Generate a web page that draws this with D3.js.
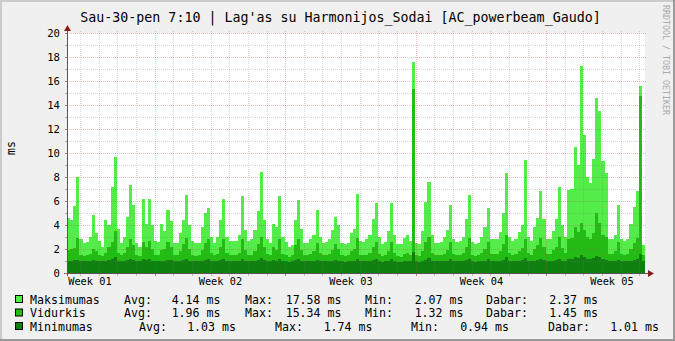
<!DOCTYPE html>
<html>
<head>
<meta charset="utf-8">
<script src="https://cdn.jsdelivr.net/npm/d3@7"></script>
<style>
  html, body { margin: 0; padding: 0; background: #f0f0f0; }
  svg { display: block; }
  text { font-family: "DejaVu Sans Mono", monospace; fill: #000; }
</style>
</head>
<body>
<svg id="chart"></svg>
<script>
const width = 675;
const height = 341;

const titleText = "Sau-30-pen 7:10 | Lag'as su Harmonijos_Sodai [AC_powerbeam_Gaudo]";
const unitLabel = "ms";
const watermark = "RRDTOOL / TOBI OETIKER";

// time window shown (31 days) and sample step in hours
const startTime = new Date(2025, 11, 31, 7, 10);
const endTime = new Date(2026, 0, 31, 7, 10);
const stepHours = 4;

const yTicks = [0, 2, 4, 6, 8, 10, 12, 14, 16, 18, 20];

// values, one per 4 hour step
const maxValues = [
    4.6, 4.4, 5.6, 8.0, 2.8, 2.5, 2.6, 3.0, 4.8, 3.3, 2.7, 2.2,
    4.4, 4.0, 7.2, 9.7, 3.7, 2.5, 3.0, 4.7, 7.3, 5.7, 2.5, 2.2,
    6.2, 4.1, 6.2, 4.0, 2.7, 2.6, 4.1, 3.5, 5.25, 4.3, 2.5, 2.5,
    3.3, 4.4, 6.5, 4.0, 2.7, 2.5, 2.5, 3.8, 5.0, 5.4, 3.0, 2.5,
    3.0, 4.4, 6.2, 3.0, 2.7, 2.7, 2.7, 3.2, 6.4, 3.6, 2.7, 2.8,
    3.6, 5.2, 8.4, 4.4, 2.8, 2.5, 4.1, 3.8, 6.4, 3.0, 2.6, 2.2,
    2.3, 4.4, 6.1, 3.7, 2.5, 2.5, 2.8, 3.2, 5.25, 3.0, 2.5, 2.6,
    2.8, 3.6, 4.7, 4.0, 2.5, 2.4, 2.5, 3.3, 3.7, 6.6, 2.7, 2.6,
    2.8, 3.2, 4.5, 5.8, 3.0, 2.4, 2.6, 3.5, 5.8, 3.2, 2.4, 2.4,
    2.9, 3.2, 2.7, 17.58, 2.5, 2.4, 3.5, 5.9, 7.6, 3.2, 2.5, 2.5,
    2.6, 3.0, 3.6, 5.7, 2.8, 2.6, 2.7, 3.0, 4.5, 6.5, 2.6, 2.4,
    2.5, 3.0, 3.8, 5.4, 2.8, 2.8, 2.8, 3.4, 5.0, 8.3, 3.0, 2.7,
    2.8, 3.4, 4.0, 9.4, 3.0, 2.7, 3.8, 4.6, 6.8, 4.5, 2.8, 2.8,
    3.5, 4.5, 7.2, 4.0, 3.0, 6.9, 7.0, 10.5, 9.0, 17.25, 11.5, 8.0,
    7.5, 9.5, 14.6, 13.5, 9.3, 8.3, 2.8, 2.8, 3.2, 5.7, 2.8, 2.7,
    2.8, 4.1, 5.5, 6.8, 15.6, 2.3
];

const avgValues = [
    1.9, 2.0, 2.1, 2.9, 1.5, 1.4, 1.5, 1.6, 2.0, 1.8, 1.5, 1.4,
    1.7, 2.2, 2.6, 3.5, 1.7, 1.5, 1.7, 2.2, 2.8, 2.3, 1.5, 1.4,
    2.6, 2.2, 2.7, 2.0, 1.5, 1.5, 1.9, 2.0, 2.6, 2.2, 1.5, 1.5,
    1.8, 2.4, 2.9, 2.0, 1.5, 1.4, 1.5, 1.9, 2.5, 2.8, 1.7, 1.5,
    1.6, 2.2, 2.8, 1.7, 1.5, 1.5, 1.5, 1.7, 2.8, 1.9, 1.5, 1.5,
    1.8, 2.4, 3.0, 2.2, 1.6, 1.5, 2.2, 1.9, 2.8, 1.6, 1.5, 1.35,
    1.5, 2.3, 2.8, 1.9, 1.5, 1.5, 1.6, 1.8, 2.5, 1.7, 1.5, 1.5,
    1.6, 1.9, 2.4, 2.0, 1.5, 1.4, 1.5, 1.8, 2.0, 2.9, 1.5, 1.5,
    1.5, 1.7, 2.2, 2.6, 1.6, 1.4, 1.5, 1.8, 2.6, 1.7, 1.4, 1.35,
    1.6, 1.7, 1.5, 15.34, 1.5, 1.4, 1.8, 2.6, 3.0, 1.7, 1.5, 1.5,
    1.5, 1.6, 1.9, 2.6, 1.6, 1.5, 1.5, 1.7, 2.2, 2.9, 1.5, 1.4,
    1.5, 1.7, 2.0, 2.6, 1.6, 1.6, 1.6, 1.8, 2.4, 3.2, 1.7, 1.5,
    1.6, 1.8, 2.1, 2.8, 1.7, 1.5, 2.0, 2.3, 2.9, 2.2, 1.6, 1.6,
    1.9, 2.2, 3.0, 2.1, 1.7, 2.8, 2.9, 3.8, 3.4, 4.2, 3.6, 3.0,
    2.8, 3.3, 5.0, 4.2, 3.2, 3.0, 1.6, 1.6, 1.8, 2.6, 1.6, 1.5,
    1.6, 2.0, 2.5, 2.9, 14.75, 1.5
];

const minValues = [
    1.0, 1.0, 1.05, 1.1, 1.0, 0.98, 1.0, 1.0, 1.08, 1.0, 0.97, 0.96,
    1.02, 1.05, 1.2, 1.35, 1.0, 0.98, 1.0, 1.05, 1.2, 1.1, 0.98, 0.96,
    1.15, 1.05, 1.15, 1.02, 0.98, 0.97, 1.02, 1.0, 1.1, 1.05, 0.97, 0.96,
    1.0, 1.05, 1.15, 1.0, 0.97, 0.96, 0.97, 1.0, 1.1, 1.15, 1.0, 0.97,
    0.98, 1.05, 1.15, 1.0, 0.97, 0.96, 0.97, 1.0, 1.2, 1.02, 0.97, 0.97,
    1.0, 1.1, 1.25, 1.05, 0.98, 0.96, 1.05, 1.0, 1.15, 0.98, 0.96, 0.95,
    0.96, 1.05, 1.15, 1.0, 0.96, 0.96, 0.98, 1.0, 1.1, 1.0, 0.96, 0.96,
    0.98, 1.0, 1.1, 1.02, 0.96, 0.95, 0.96, 1.0, 1.02, 1.2, 0.97, 0.96,
    0.97, 1.0, 1.05, 1.15, 0.98, 0.95, 0.96, 1.0, 1.15, 1.0, 0.95, 0.94,
    0.97, 1.0, 0.97, 1.74, 0.97, 0.95, 1.0, 1.12, 1.25, 1.0, 0.96, 0.96,
    0.97, 0.98, 1.02, 1.15, 0.98, 0.96, 0.97, 1.0, 1.05, 1.2, 0.97, 0.95,
    0.96, 1.0, 1.02, 1.15, 0.98, 0.97, 0.98, 1.0, 1.1, 1.3, 1.0, 0.97,
    0.98, 1.0, 1.05, 1.25, 1.0, 0.97, 1.02, 1.05, 1.2, 1.05, 0.97, 0.97,
    1.0, 1.05, 1.2, 1.02, 0.98, 1.15, 1.2, 1.35, 1.25, 1.5, 1.3, 1.2,
    1.15, 1.25, 1.45, 1.3, 1.15, 1.1, 0.98, 0.97, 1.0, 1.1, 0.97, 0.96,
    0.97, 1.02, 1.1, 1.15, 1.6, 1.01
];

// legend: Avg, Max, Min, Dabar
const seriesNames = ["Maksimumas", "Vidurkis", "Minimumas"];
const statNames = ["Avg:", "Max:", "Min:", "Dabar:"];
const maxStats = [4.14, 17.58, 2.07, 2.37];
const avgStats = [1.96, 15.34, 1.32, 1.45];
const minStats = [1.03, 1.74, 0.94, 1.01];

const colors = ["#54EC48", "#24BC14", "#0F7F0F"];

const margin = { left: 67, right: 30, top: 33, bottom: 68 };
const plotRight = width - margin.right;
const plotBottom = height - margin.bottom;

const svg = d3.select("#chart")
    .attr("width", width)
    .attr("height", height);

// background + rrdtool style shade border
svg.append("rect").attr("width", width).attr("height", height).attr("fill", "#f0f0f0");
svg.append("path").attr("d", `M0,${height} V0 H${width}`).attr("fill", "none")
    .attr("stroke", "#cbcbcb").attr("stroke-width", 4);
svg.append("path").attr("d", `M0,${height} H${width} V0`).attr("fill", "none")
    .attr("stroke", "#999").attr("stroke-width", 4);

const x = d3.scaleTime().domain([startTime, endTime]).range([margin.left, plotRight]);
const y = d3.scaleLinear().domain([0, 20]).range([plotBottom, margin.top]);

svg.append("rect")
    .attr("x", margin.left).attr("y", margin.top)
    .attr("width", plotRight - margin.left).attr("height", plotBottom - margin.top)
    .attr("fill", "#fff");

function toSeries(values) {
    const pts = values.map((v, i) => ({ t: d3.timeHour.offset(startTime, i * stepHours), v: v }));
    pts.push({ t: endTime, v: values[values.length - 1] });
    return pts;
}

const area = d3.area()
    .x(d => x(d.t))
    .y0(y(0))
    .y1(d => y(d.v))
    .curve(d3.curveStepAfter);

[maxValues, avgValues, minValues].forEach((vals, i) => {
    svg.append("path")
        .datum(toSeries(vals))
        .attr("d", area)
        .attr("fill", colors[i])
        .attr("shape-rendering", "crispEdges");
});

// grid, drawn over the data like rrdtool does
const px = v => Math.round(v) + 0.5;
const grid = svg.append("g").attr("stroke-width", 1).attr("stroke-dasharray", "1,1")
    .attr("shape-rendering", "crispEdges");

d3.range(1, 21).forEach(v => {
    grid.append("line")
        .attr("x1", margin.left).attr("x2", plotRight + 2)
        .attr("y1", px(y(v))).attr("y2", px(y(v)))
        .attr("stroke", v % 2 === 0 ? "rgba(200,70,70,0.35)" : "rgba(120,120,120,0.3)");
});

const days = d3.timeDay.range(startTime, endTime);
days.forEach(d => {
    const isMonday = d.getDay() === 1;
    grid.append("line")
        .attr("x1", px(x(d))).attr("x2", px(x(d)))
        .attr("y1", margin.top - 2).attr("y2", plotBottom)
        .attr("stroke", isMonday ? "rgba(200,70,70,0.35)" : "rgba(120,120,120,0.3)");
});

// axis lines, ticks and arrows
const axisColor = "#555";
const arrowColor = "#8b1c1c";
svg.append("line")
    .attr("x1", margin.left + 0.5).attr("x2", margin.left + 0.5)
    .attr("y1", plotBottom + 3).attr("y2", margin.top - 5)
    .attr("stroke", axisColor);
svg.append("line")
    .attr("x1", margin.left - 3).attr("x2", plotRight + 4)
    .attr("y1", plotBottom + 0.5).attr("y2", plotBottom + 0.5)
    .attr("stroke", axisColor);

d3.range(0, 21).forEach(v => {
    svg.append("line")
        .attr("x1", margin.left - 2).attr("x2", margin.left)
        .attr("y1", px(y(v))).attr("y2", px(y(v)))
        .attr("stroke", v % 2 === 0 ? "#c77" : "#aaa");
});
days.forEach(d => {
    svg.append("line")
        .attr("x1", px(x(d))).attr("x2", px(x(d)))
        .attr("y1", plotBottom + 1).attr("y2", plotBottom + 3)
        .attr("stroke", d.getDay() === 1 ? "#c77" : "#bbb");
});

svg.append("path")
    .attr("d", `M${margin.left + 0.5},${margin.top - 8} l-3.5,6 h7 z`)
    .attr("fill", arrowColor);
svg.append("path")
    .attr("d", `M${plotRight + 9},${plotBottom + 0.5} l-6,-3.5 v7 z`)
    .attr("fill", arrowColor);

// axis labels
const yAxis = svg.append("g")
    .attr("transform", `translate(${margin.left},0)`)
    .call(d3.axisLeft(y).tickValues(yTicks).tickSize(0).tickPadding(7).tickFormat(d3.format("d")));
yAxis.select(".domain").remove();
yAxis.selectAll("text").attr("font-size", "10.6px").attr("font-family", "DejaVu Sans Mono").attr("fill", "#000");

const weekCenters = d3.timeMonday.range(d3.timeMonday.floor(startTime), endTime)
    .map(d => d3.timeHour.offset(d, 84));
const xAxis = svg.append("g")
    .attr("transform", `translate(0,${plotBottom})`)
    .call(d3.axisBottom(x).tickValues(weekCenters).tickSize(0).tickPadding(5)
        .tickFormat(d3.timeFormat("Week %V")));
xAxis.select(".domain").remove();
xAxis.selectAll("text").attr("font-size", "10.3px").attr("font-family", "DejaVu Sans Mono").attr("fill", "#000");

svg.append("text")
    .attr("x", width / 2 + 3).attr("y", 22)
    .attr("text-anchor", "middle")
    .attr("font-size", "13.3px")
    .text(titleText);

svg.append("text")
    .attr("transform", "translate(15,148) rotate(-90)")
    .attr("text-anchor", "middle")
    .attr("font-size", "11.5px")
    .text(unitLabel);

svg.append("text")
    .attr("transform", "translate(663,5) rotate(90)")
    .attr("font-size", "8.3px")
    .style("fill", "#aaa")
    .text(watermark);

// legend
const legendRows = [maxStats, avgStats, minStats];
const rowY = [303.5, 317, 330.5];
const labelX = [[124, 245, 365, 486], [124, 245, 365, 486], [139, 275, 411, 548]];
const valueEnd = [[220.5, 341.5, 463.5, 598], [220.5, 341.5, 463.5, 598], [236, 372.5, 509, 659]];

const legend = svg.append("g").attr("font-size", "11.6px");
legendRows.forEach((stats, r) => {
    legend.append("rect")
        .attr("x", 15.5).attr("y", rowY[r] - 8)
        .attr("width", 7).attr("height", 7)
        .attr("fill", colors[r]).attr("stroke", "#000");
    legend.append("text").attr("x", 30).attr("y", rowY[r]).text(seriesNames[r]);
    stats.forEach((v, k) => {
        legend.append("text").attr("x", labelX[r][k]).attr("y", rowY[r]).text(statNames[k]);
        legend.append("text").attr("x", valueEnd[r][k]).attr("y", rowY[r])
            .attr("text-anchor", "end").text(d3.format(".2f")(v) + " ms");
    });
});
</script>
</body>
</html>
